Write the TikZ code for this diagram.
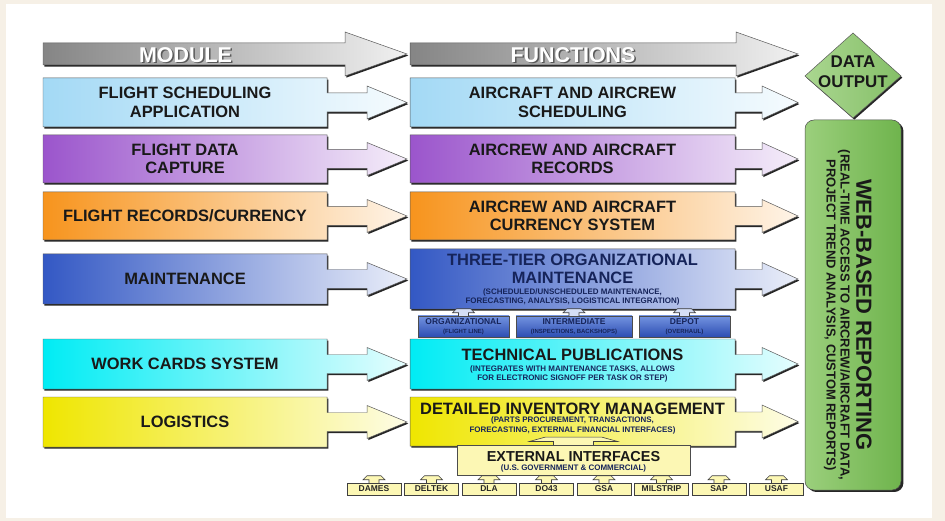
\documentclass[tikz,border=0pt]{standalone}
\usepackage{fontspec}
\setmainfont{Liberation Sans}
\usetikzlibrary{positioning}

\definecolor{cream}{HTML}{F6F0E6}
\definecolor{greyrow}{HTML}{858585}
\definecolor{skyrow}{HTML}{A3D9F5}
\definecolor{violetrow}{HTML}{9B55CC}
\definecolor{orangerow}{HTML}{F7941D}
\definecolor{bluerow}{HTML}{3358C4}
\definecolor{cyanrow}{HTML}{00ECF4}
\definecolor{yellowrow}{HTML}{EFE600}
\definecolor{paleyellow}{HTML}{FCF7B4}
\definecolor{tierlight}{HTML}{7393E0}
\definecolor{tierdark}{HTML}{2C4DB2}
\definecolor{webgreen}{HTML}{6FB44D}
\definecolor{weblight}{HTML}{9BCF7C}
\definecolor{navytxt}{HTML}{16245A}

% box with a block arrow on its right side
% #1 left x, #2 box right x, #3 head base x, #4 tip x, #5 top y, #6 bottom y, #7 colour
\newcommand{\rowarrow}[7]{%
  \path[rowshape, left color=#7, right color=#7!10!white]
    (#1,#5) -- (#2,#5) -- (#2,{(#5+#6)/2-9.5}) -- (#3,{(#5+#6)/2-9.5})
    -- (#3,{(#5+#6)/2-16.5}) -- (#4,{(#5+#6)/2}) -- (#3,{(#5+#6)/2+16.5})
    -- (#3,{(#5+#6)/2+9.5}) -- (#2,{(#5+#6)/2+9.5}) -- (#2,#6) -- (#1,#6) -- cycle;}

\tikzset{
  rowshape/.style={draw=black!65, line width=0.5pt,
    preaction={fill=black!85, transform canvas={shift={(1.3pt,-1.6pt)}}}},
  rowlabel/.style={font=\bfseries\fontsize{16.5}{18.5}\selectfont, align=center, text=black!90},
  sublabel/.style={font=\bfseries\fontsize{8}{9.6}\selectfont, align=center, text=navytxt},
  headlabel/.style={font=\bfseries\fontsize{21.5}{24}\selectfont, text=white},
  tierbox/.style={draw=black!70, line width=0.5pt, top color=tierlight, bottom color=tierdark,
    minimum height=21bp, inner sep=0pt, align=center, text=navytxt,
    font=\bfseries\fontsize{8.5}{8.5}\selectfont,
    preaction={fill=black!85, transform canvas={shift={(1pt,-1.2pt)}}}},
  srcbox/.style={draw=black!75, line width=0.5pt, fill=paleyellow, minimum width=54bp,
    minimum height=12bp, inner sep=0pt, text=black!85,
    font=\bfseries\fontsize{8.5}{8.5}\selectfont,
    preaction={fill=black!85, transform canvas={shift={(0.9pt,-1pt)}}}},
  tickshape/.style={draw=black!75, line width=0.6pt},
  uptick/.pic={\path[tickshape, pic actions] (-5,0) -- (-5,-3) -- (-11,-3) -- (-7,-7)
    -- (7,-7) -- (11,-3) -- (5,-3) -- (5,0);}
}

\begin{document}
\begin{tikzpicture}[x=1bp, y=-1bp]

	\useasboundingbox (0,0) rectangle (945,521);
	\fill[cream] (0,0) rectangle (945,521);
	\fill[white] (6,4) rectangle (932,518);

	% header arrows
	\path[rowshape, left color=greyrow, right color=greyrow!12!white]
		(43,43) -- (345,43) -- (345,32) -- (407,54) -- (345,76) -- (345,65) -- (43,65) -- cycle;
	\path[rowshape, left color=greyrow, right color=greyrow!12!white]
		(410,43) -- (736,43) -- (736,32) -- (798,54) -- (736,76) -- (736,65) -- (410,65) -- cycle;
	\node[headlabel, text=black!65] (modshade) at (187,56.5) {MODULE};
	\node[headlabel] (modhead) at (185.5,55) {MODULE};
	\node[headlabel, text=black!65] (funcshade) at (574.5,56.5) {FUNCTIONS};
	\node[headlabel] (funchead) at (573,55) {FUNCTIONS};

	% module column
	\rowarrow{43}{327}{367}{407}{78}{127}{skyrow}
	\rowarrow{43}{327}{367}{407}{135}{183}{violetrow}
	\rowarrow{43}{327}{367}{407}{192}{240}{orangerow}
	\rowarrow{43}{327}{367}{407}{254}{304}{bluerow}
	\rowarrow{43}{327}{367}{407}{339}{389}{cyanrow}
	\rowarrow{43}{327}{367}{407}{397}{447}{yellowrow}

	% function column
	\rowarrow{410}{735}{762}{798}{78}{127}{skyrow}
	\rowarrow{410}{735}{762}{798}{135}{183}{violetrow}
	\rowarrow{410}{735}{762}{798}{192}{240}{orangerow}
	\rowarrow{410}{735}{762}{798}{249}{309}{bluerow}
	\rowarrow{410}{735}{762}{798}{339}{389}{cyanrow}
	\rowarrow{410}{735}{762}{798}{397}{446}{yellowrow}

	% maintenance tiers
	\node[tierbox, minimum width=91bp] (org) at (463.5,326.5)
		{ORGANIZATIONAL\\[1pt]{\fontsize{6}{6}\selectfont (FLIGHT LINE)}};
	\node[tierbox, minimum width=116bp] (inter) at (574,326.5)
		{INTERMEDIATE\\[1pt]{\fontsize{6}{6}\selectfont (INSPECTIONS, BACKSHOPS)}};
	\node[tierbox, minimum width=91bp] (depot) at (684.5,326.5)
		{DEPOT\\[1pt]{\fontsize{6}{6}\selectfont (OVERHAUL)}};
	\pic[fill=tierlight!30!white] at (org.north) {uptick};
	\pic[fill=tierlight!30!white] at (inter.north) {uptick};
	\pic[fill=tierlight!30!white] at (depot.north) {uptick};

	% external interfaces
	\node[draw=black!70, line width=0.5pt, fill=paleyellow, minimum width=233bp, minimum height=30bp,
		preaction={fill=black!85, transform canvas={shift={(1.2pt,-1.4pt)}}}] (ext) at (573.5,460) {};
	\pic[fill=paleyellow, xscale=4, yscale=1.1] at (ext.north) {uptick};

	\node[srcbox] (dames) at (374,489) {DAMES};
	\node[srcbox, right=3bp of dames] (deltek) {DELTEK};
	\node[srcbox, right=3bp of deltek] (dla) {DLA};
	\node[srcbox, right=3bp of dla] (dofour) {DO43};
	\node[srcbox, right=3bp of dofour] (gsa) {GSA};
	\node[srcbox, right=3bp of gsa] (milstrip) {MILSTRIP};
	\node[srcbox, right=3bp of milstrip] (sap) {SAP};
	\node[srcbox, right=3bp of sap] (usaf) {USAF};
	\pic[fill=paleyellow] at (dames.north) {uptick};
	\pic[fill=paleyellow] at (deltek.north) {uptick};
	\pic[fill=paleyellow] at (dla.north) {uptick};
	\pic[fill=paleyellow] at (dofour.north) {uptick};
	\pic[fill=paleyellow] at (gsa.north) {uptick};
	\pic[fill=paleyellow] at (milstrip.north) {uptick};
	\pic[fill=paleyellow] at (sap.north) {uptick};
	\pic[fill=paleyellow] at (usaf.north) {uptick};

	% data output and reporting
	\coordinate (dtop) at (853,33);
	\coordinate (dright) at (901,76);
	\coordinate (dbottom) at (853,118);
	\coordinate (dleft) at (805,76);
	\path[rowshape, left color=weblight!85!white, right color=webgreen!85!white]
		(dtop) -- (dright) -- (dbottom) -- (dleft) -- cycle;
	\node[rowlabel, font=\bfseries\fontsize{17}{20}\selectfont] (dataout) at (853,72) {DATA\\OUTPUT};

	\node[draw=black!70, line width=0.5pt, rounded corners=9bp, left color=weblight, right color=webgreen,
		minimum width=96bp, minimum height=370bp,
		preaction={fill=black!85, rounded corners=9bp, transform canvas={shift={(2.4pt,-2pt)}}}]
		(web) at (853,305) {};
	\node[rotate=-90, font=\bfseries\fontsize{22}{24}\selectfont, text=black!90] (webhead)
		at ([shift={(11,10)}]web.center) {WEB-BASED REPORTING};
	\node[rotate=-90, font=\bfseries\fontsize{13}{14}\selectfont, text=black!90] (webnote)
		at ([shift={(-9,10)}]web.center) {(REAL-TIME ACCESS TO AIRCREW/AIRCRAFT DATA,};
	\node[rotate=-90, font=\bfseries\fontsize{13}{14}\selectfont, text=black!90] (webmore)
		at ([shift={(-23,10)}]web.center) {PROJECT TREND ANALYSIS, CUSTOM REPORTS)};

	% module labels
	\node[rowlabel] (fsa) at (185,102.5) {FLIGHT SCHEDULING\\APPLICATION};
	\node[rowlabel] (fdc) at (185,159) {FLIGHT DATA\\CAPTURE};
	\node[rowlabel] (frc) at (185,216) {FLIGHT RECORDS/CURRENCY};
	\node[rowlabel] (mnt) at (185,279) {MAINTENANCE};
	\node[rowlabel] (wcs) at (185,364) {WORK CARDS SYSTEM};
	\node[rowlabel] (lgs) at (185,422) {LOGISTICS};

	% function labels
	\node[rowlabel] (acs) at (572.5,102.5) {AIRCRAFT AND AIRCREW\\SCHEDULING};
	\node[rowlabel] (acr) at (572.5,159) {AIRCREW AND AIRCRAFT\\RECORDS};
	\node[rowlabel] (acc) at (572.5,216) {AIRCREW AND AIRCRAFT\\CURRENCY SYSTEM};
	\node[rowlabel, text=navytxt] (tto) at (572.5,269) {THREE-TIER ORGANIZATIONAL\\MAINTENANCE};
	\node[sublabel] (ttonote) at (572.5,297)
		{(SCHEDULED/UNSCHEDULED MAINTENANCE,\\FORECASTING, ANALYSIS, LOGISTICAL INTEGRATION)};
	\node[rowlabel] (tpub) at (572.5,355) {TECHNICAL PUBLICATIONS};
	\node[sublabel] (tpubnote) at (572.5,374)
		{(INTEGRATES WITH MAINTENANCE TASKS, ALLOWS\\FOR ELECTRONIC SIGNOFF PER TASK OR STEP)};
	\node[rowlabel] (dim) at (572.5,409) {DETAILED INVENTORY MANAGEMENT};
	\node[sublabel] (dimnote) at (572.5,425.5)
		{(PARTS PROCUREMENT, TRANSACTIONS,\\FORECASTING, EXTERNAL FINANCIAL INTERFACES)};
	\node[rowlabel, font=\bfseries\fontsize{14.5}{16}\selectfont] (exthead) at (573.5,457) {EXTERNAL INTERFACES};
	\node[sublabel] (extnote) at (573.5,468.5) {(U.S. GOVERNMENT \& COMMERCIAL)};

\end{tikzpicture}
\end{document}
